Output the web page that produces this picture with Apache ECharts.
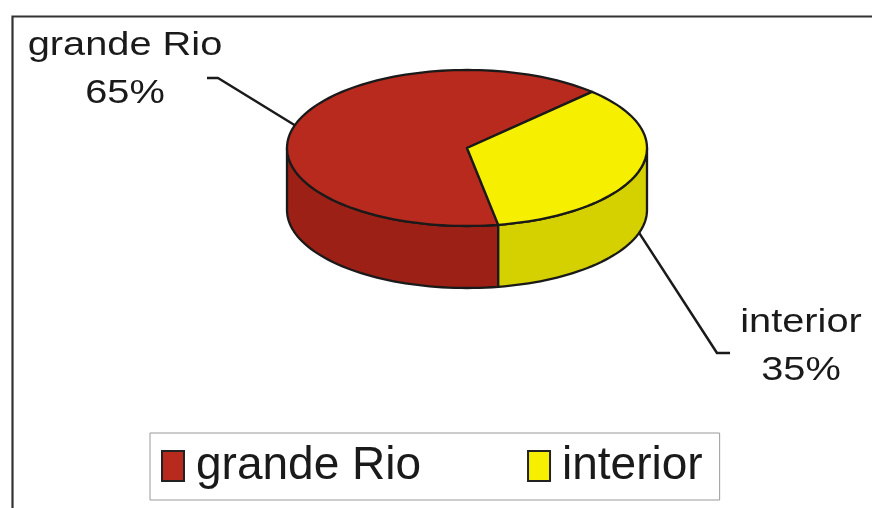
<!DOCTYPE html>
<html>
<head>
<meta charset="utf-8">
<script src="https://cdn.jsdelivr.net/npm/echarts@6/dist/echarts.min.js"></script>
<style>html,body{margin:0;padding:0;background:#fff;}#c{width:872px;height:508px;}</style>
</head>
<body>
<div id="c"></div>
<script>
// ---- data ----
const categories = ['grande Rio', 'interior'];
const values = [65, 35];

// ---- styling ----
const topColors = ['#B8291E', '#F6F000'];
const sideColors = ['#9C2015', '#D5D000'];
const strokeColor = '#1a1a1a';

// layout of the pseudo-3D pie
const CX = 467, CY = 148, RX = 180, RY = 78, DEPTH = 62, START = 80;
const labelLayout = [
  { elbow: [218, 78], end: [207, 78], x: 125, nameY: 46, pctY: 94 },
  { elbow: [717, 353], end: [730, 353], x: 801, nameY: 323, pctY: 371 }
];

const total = values.reduce((a, b) => a + b, 0);
function sliceAngles(i) {
  let a0 = START;
  for (let k = 0; k < i; k++) a0 += values[k] / total * 360;
  return [a0, a0 + values[i] / total * 360];
}
function pt(t, dy) {
  const r = t * Math.PI / 180;
  return [CX + RX * Math.cos(r), CY + RY * Math.sin(r) + (dy || 0)];
}
function arc(a0, a1, dy) {
  const pts = [];
  const n = Math.max(2, Math.ceil(Math.abs(a1 - a0) / 2));
  for (let j = 0; j <= n; j++) pts.push(pt(a0 + (a1 - a0) * j / n, dy));
  return pts;
}

function renderSlice(params, api) {
  const i = params.seriesIndex;
  const [a0, a1] = sliceAngles(i);
  const children = [];
  // front side faces
  [[0, 180], [360, 540]].forEach(([f0, f1]) => {
    const s = Math.max(a0, f0), e = Math.min(a1, f1);
    if (e > s) {
      const top = arc(s, e, 0);
      const bot = arc(e, s, DEPTH);
      children.push({
        type: 'polygon', z2: 1,
        shape: { points: top.concat(bot) },
        style: { fill: sideColors[i], stroke: strokeColor, lineWidth: 2.3, lineJoin: 'round' }
      });
    }
  });
  // top face
  children.push({
    type: 'polygon', z2: 10,
    shape: { points: [[CX, CY]].concat(arc(a0, a1, 0)) },
    style: { fill: topColors[i], stroke: strokeColor, lineWidth: 2.3, lineJoin: 'round' }
  });
  // leader line
  const mid = (a0 + a1) / 2;
  const front = Math.sin(mid * Math.PI / 180) > 0;
  const start = pt(mid, front ? DEPTH : 0);
  const L = labelLayout[i];
  children.push({
    type: 'polyline', z2: 0,
    shape: { points: [start, L.elbow, L.end] },
    style: { stroke: strokeColor, lineWidth: 2.5, fill: null, lineJoin: 'round' }
  });
  const pct = Math.round(values[i] / total * 100) + '%';
  [[categories[i], L.nameY], [pct, L.pctY]].forEach(([txt, y]) => {
    children.push({
      type: 'text', z2: 20, x: L.x, y: y, scaleX: 1.17,
      style: { text: txt, font: '34px "Liberation Sans", Arial, sans-serif', fill: strokeColor, align: 'center', verticalAlign: 'middle' }
    });
  });
  return { type: 'group', children };
}

const chart = echarts.init(document.getElementById('c'), null, { renderer: 'canvas' });
chart.setOption({
  animation: false,
  backgroundColor: '#fff',
  graphic: [{
    type: 'rect', left: 10, top: 14, z: -1,
    shape: { width: 900, height: 600 },
    style: { fill: 'none', stroke: '#333', lineWidth: 2.2 }
  }],
  legend: {
    left: 150, top: 433,
    orient: 'horizontal',
    icon: 'rect',
    itemWidth: 22, itemHeight: 30,
    itemGap: 106,
    padding: [10, 17, 11, 11],
    borderColor: '#999', borderWidth: 1,
    selectedMode: false,
    itemStyle: { borderColor: '#222', borderWidth: 2 },
    textStyle: { fontFamily: 'Liberation Sans', fontSize: 46, color: strokeColor, padding: [0, 0, 0, 7] },
    data: categories
  },
  series: categories.map((name, i) => ({
    type: 'custom',
    name: name,
    coordinateSystem: 'none',
    silent: true,
    itemStyle: { color: topColors[i] },
    data: [values[i]],
    renderItem: renderSlice
  }))
});
</script>
</body>
</html>
